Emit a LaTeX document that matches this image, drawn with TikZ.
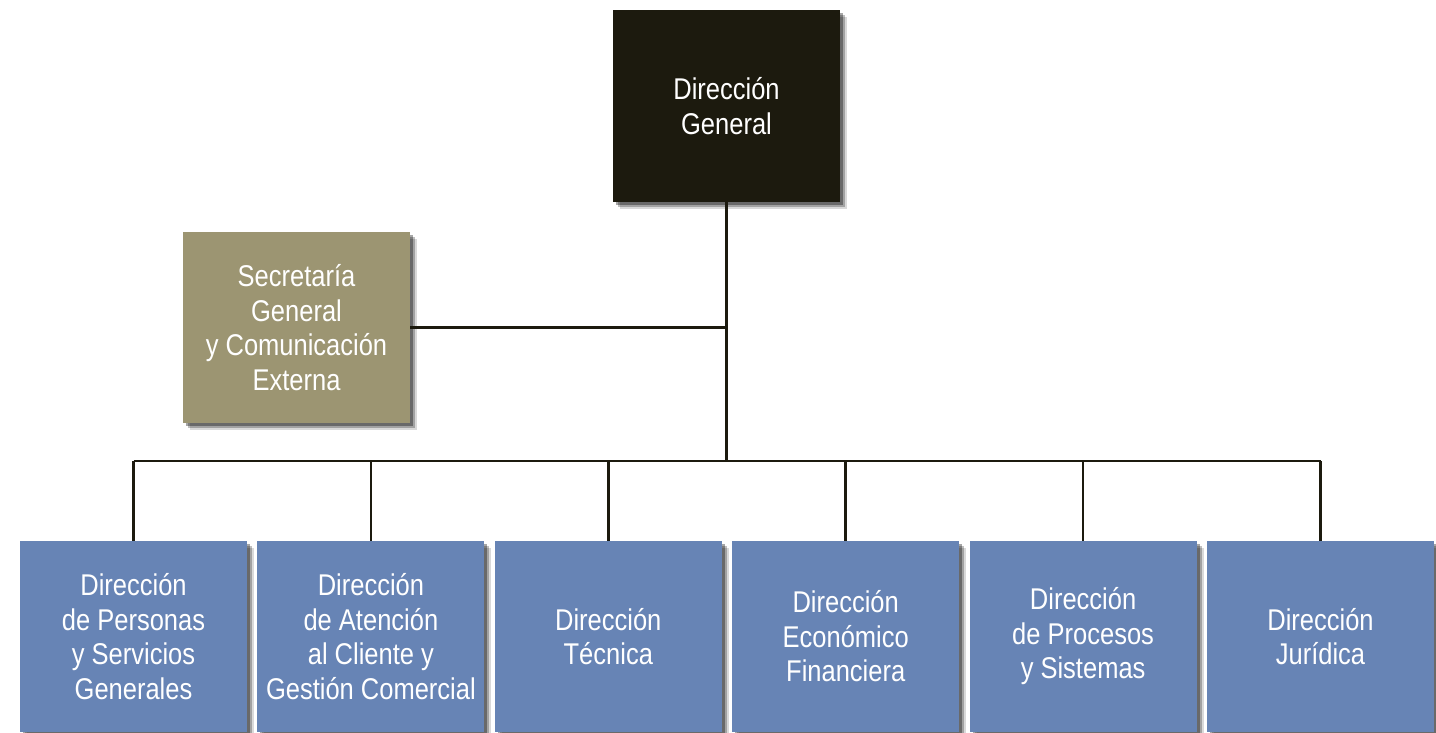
\documentclass[tikz,border=0pt]{standalone}
\usepackage{fontspec}
\setmainfont[FakeStretch=0.85]{Liberation Sans}
\usetikzlibrary{shadows}
\definecolor{dark}{HTML}{1C1A0E}
\definecolor{olive}{HTML}{9C9572}
\definecolor{blu}{HTML}{6784B5}
\tikzset{
  box/.style={minimum width=227pt, minimum height=191pt, inner sep=0pt, outer sep=0pt,
    text=white, align=center, font=\fontsize{30}{34.5}\selectfont,
    drop shadow={shadow xshift=7pt, shadow yshift=-7pt, opacity=0.15, fill=black},
    drop shadow={shadow xshift=5pt, shadow yshift=-5pt, opacity=0.25, fill=black},
    drop shadow={shadow xshift=3pt, shadow yshift=-3pt, opacity=0.35, fill=black}},
  conn/.style={draw=dark, line width=2.5pt}
}
\begin{document}
\begin{tikzpicture}[x=1pt,y=-1pt]
\useasboundingbox[fill=white] (0,0) rectangle (1436,732);
\node[box, fill=dark, minimum height=192pt] (dg) at (726.5,106) {Dirección\\General};
\node[box, fill=olive] (sec) at (296.5,327.5) {Secretaría\\General\\y Comunicación\\Externa};
\node[box, fill=blu] (b1) at (133.5,636.5) {Dirección\\de Personas\\y Servicios\\Generales};
\node[box, fill=blu] (b2) at (370.9,636.5) {Dirección\\de Atención\\al Cliente y\\Gestión Comercial};
\node[box, fill=blu] (b3) at (608.3,636.5) {Dirección\\Técnica};
\node[box, fill=blu] (b4) at (845.7,636.5) {Dirección\\Económico\\Financiera};
\node[box, fill=blu] (b5) at (1083.1,636.5) {Dirección\\de Procesos\\y Sistemas};
\node[box, fill=blu] (b6) at (1320.5,636.5) {Dirección\\Jurídica};
\coordinate (bus) at (726.5,461);
\draw[conn] (dg.south) -- (bus);
\draw[conn] (sec.east) -- (sec.east -| dg.south);
\draw[conn] (b1.north |- bus) -- (b6.north |- bus);
\foreach \b in {b1,b2,b3,b4,b5,b6}{
  \draw[conn] (\b.north |- bus) -- (\b.north);
}
\end{tikzpicture}
\end{document}
